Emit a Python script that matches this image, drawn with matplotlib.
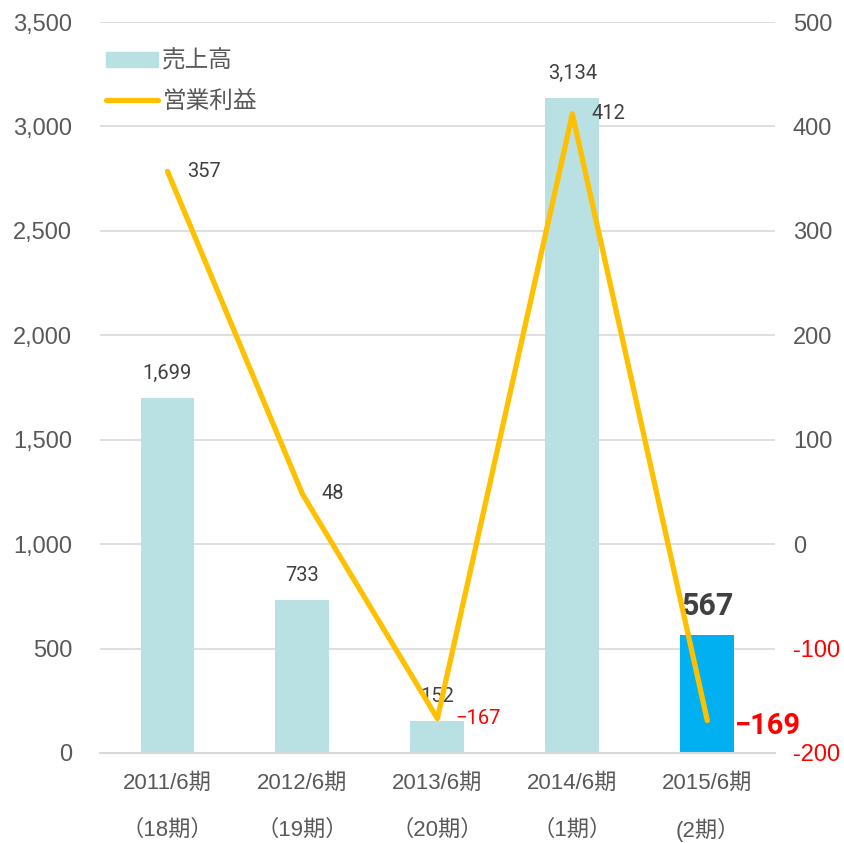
import numpy as np
import matplotlib.pyplot as plt
import matplotlib.transforms as mtransforms
from matplotlib.lines import Line2D
from matplotlib.patches import Patch

plt.rcParams['font.family'] = ['Liberation Sans', 'Noto Sans CJK JP', 'DejaVu Sans']

periods = ['2011/6期', '2012/6期', '2013/6期', '2014/6期', '2015/6期']
terms = ['（18期）', '（19期）', '（20期）', '（1期）', '(2期）']
sales = [1699, 733, 152, 3134, 567]
profit = [357, 48, -167, 412, -169]
sales_labels = ['1,699', '733', '152', '3,134', '567']
profit_labels = ['357', '48', '−167', '412', '−169']

grey = '#595959'
bar_col = '#B9E0E3'
hi_col = '#00B0F0'
line_col = '#FFC000'
num_font = ['Roboto', 'DejaVu Sans']

fig = plt.figure(figsize=(8.44, 8.43), dpi=100)
ax = fig.add_axes([0.1185, 0.1068, 0.7995, 0.8671])
ax2 = ax.twinx()

x = np.arange(len(periods))
cols = [bar_col] * 4 + [hi_col]
ax.bar(x, sales, width=0.4, color=cols, zorder=2)
ax.set_ylim(0, 3500)
ax.set_yticks(np.arange(0, 3501, 500))
ax.set_yticklabels([f'{v:,}' for v in range(0, 3501, 500)])
ax.set_xlim(-0.5, 4.5)
ax.set_xticks(x)
ax.set_xticklabels([])
ax.tick_params(axis='x', length=0)
ax.tick_params(axis='y', length=0, pad=20, labelsize=17, labelcolor=grey)
ax.grid(axis='y', color='#D9D9D9', lw=1.2, zorder=0)
ax.set_axisbelow(True)
for s in ['top', 'left', 'right']:
    ax.spines[s].set_visible(False)
    ax2.spines[s].set_visible(False)
ax.spines['bottom'].set_color('#D9D9D9')
ax.spines['bottom'].set_linewidth(1.5)
ax2.spines['bottom'].set_visible(False)

# two-line category labels
trans = mtransforms.blended_transform_factory(ax.transData, ax.transAxes)
for i, (p, t) in enumerate(zip(periods, terms)):
    ax.text(i, -0.041, p, transform=trans, ha='center', va='center',
            fontsize=16, color=grey)
    ax.text(i, -0.106, t, transform=trans, ha='center', va='center',
            fontsize=16, color=grey)

ax2.plot(x, profit, color=line_col, lw=3.8, solid_capstyle='round', zorder=3)
ax2.set_ylim(-200, 500)
rt = np.arange(-200, 501, 100)
ax2.set_yticks(rt)
ax2.set_yticklabels([str(v) for v in rt])
ax2.tick_params(axis='y', length=0, pad=13, labelsize=17)
for lab, v in zip(ax2.get_yticklabels(), rt):
    lab.set_color('red' if v < 0 else grey)

# bar value labels
for i, (v, s) in enumerate(zip(sales, sales_labels)):
    if i == 4:
        ax.annotate(s, (i, v), xytext=(0, 10), textcoords='offset points',
                    ha='center', va='bottom', fontsize=22, fontweight='bold',
                    color='#404040', family=num_font)
    else:
        ax.annotate(s, (i, v), xytext=(0, 11), textcoords='offset points',
                    ha='center', va='bottom', fontsize=14.5, color='#404040',
                    family=num_font)

# profit value labels
for i, (v, s) in enumerate(zip(profit, profit_labels)):
    if i == 4:
        ax2.annotate(s, (i, v), xytext=(20, -4), textcoords='offset points',
                     ha='left', va='center', fontsize=21, fontweight='bold',
                     color='red', family=num_font)
    elif v < 0:
        ax2.annotate(s, (i, v), xytext=(13, 0), textcoords='offset points',
                     ha='left', va='center', fontsize=14.5, color='red',
                     family=num_font)
    else:
        ax2.annotate(s, (i, v), xytext=(14, 0), textcoords='offset points',
                     ha='left', va='center', fontsize=14.5, color='#404040',
                     family=num_font)

handles = [Patch(color=bar_col, label='売上高'),
           Line2D([0], [0], color=line_col, lw=3.8, solid_capstyle='round', label='営業利益')]
leg = ax2.legend(handles=handles, loc='upper left', bbox_to_anchor=(-0.023, 0.99),
                 frameon=False, fontsize=17, labelcolor=grey, handlelength=2.2,
                 handleheight=0.55, labelspacing=0.75, handletextpad=0.2)

fig.savefig('out.png', dpi=100)
